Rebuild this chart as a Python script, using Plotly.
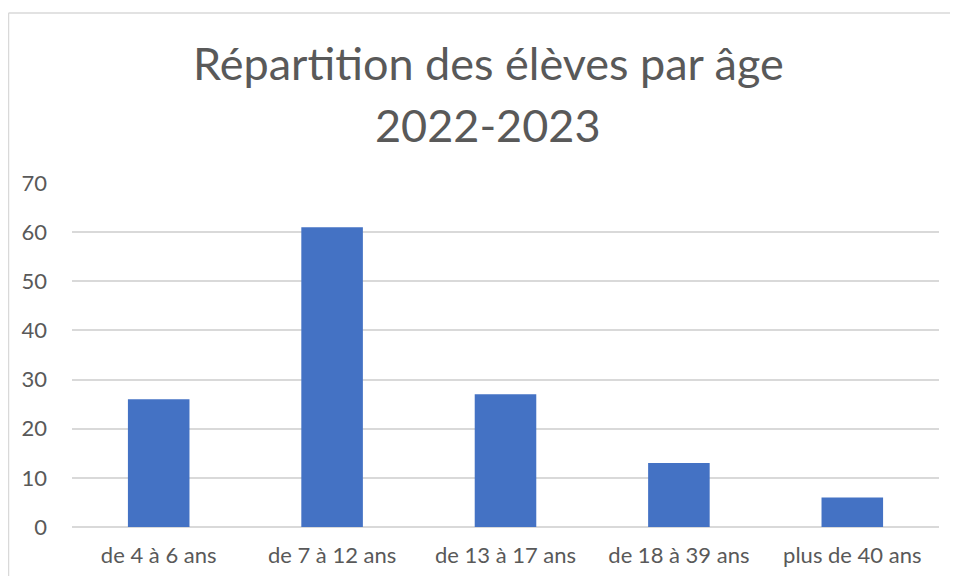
import plotly.graph_objects as go

categories = ["de 4 à 6 ans", "de 7 à 12 ans", "de 13 à 17 ans", "de 18 à 39 ans", "plus de 40 ans"]
values = [26, 61, 27, 13, 6]
title_lines = ["Répartition des élèves par âge", "2022-2023"]
y_ticks = [0, 10, 20, 30, 40, 50, 60, 70]

# page body has an 8px margin, so the figure is drawn offset by 8px
OFF = 8
W, H = 958 - 2 * OFF, 584 - 2 * OFF
L, T = 72 - OFF, 183 - OFF
R = W - (939 - OFF)
B = H - (527 - OFF)
pw, ph = W - L - R, H - T - B

def px_x(x):
    return (x - OFF - L) / pw

def px_y(y):
    return (H - B - (y - OFF)) / ph

FONT = "Lato, Open Sans, sans-serif"
GREY = "#595959"
BORDER = "#D9D9D9"

fig = go.Figure(go.Bar(
    x=categories, y=values,
    marker=dict(color="#4472C4", line=dict(width=0)),
    width=0.355,
))

annotations = []
for txt, cy in zip(title_lines, [63, 125]):
    annotations.append(dict(text=txt, xref="paper", yref="paper", x=px_x(488), y=px_y(cy),
                            xanchor="center", yanchor="middle", showarrow=False,
                            font=dict(family=FONT, size=45, color=GREY)))

shapes = [
    dict(type="line", xref="paper", yref="paper",
         x0=px_x(8.5), x1=px_x(8.5), y0=px_y(13), y1=px_y(600),
         line=dict(color=BORDER, width=1.5), layer="below"),
    dict(type="line", xref="paper", yref="paper",
         x0=px_x(8.5), x1=px_x(990), y0=px_y(13), y1=px_y(13),
         line=dict(color=BORDER, width=1.5), layer="below"),
]

fig.update_layout(
    width=W, height=H,
    margin=dict(l=L, r=R, t=T, b=B, autoexpand=False),
    paper_bgcolor="white", plot_bgcolor="white",
    font=dict(family=FONT, color=GREY, size=22),
    showlegend=False,
    xaxis=dict(showgrid=False, showline=False, ticks="", automargin=False,
               tickfont=dict(size=22), ticklabelstandoff=13),
    yaxis=dict(range=[0, 70], tickvals=y_ticks, showgrid=True, gridcolor=BORDER,
               gridwidth=1.5, zeroline=True, zerolinecolor=BORDER, zerolinewidth=1.5,
               showline=False, ticks="", automargin=False, ticklabelstandoff=24,
               tickfont=dict(size=22)),
    annotations=annotations,
    shapes=shapes,
)

fig.write_html("out.html")
